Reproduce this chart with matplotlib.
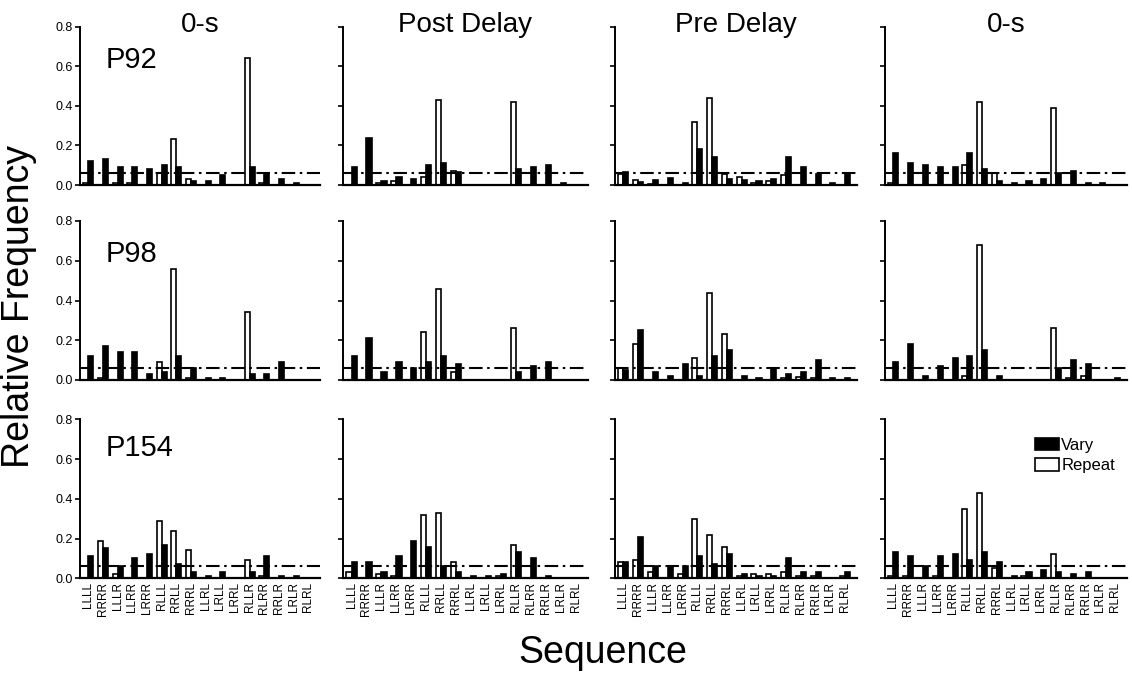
import matplotlib
matplotlib.use("Agg")
import matplotlib.pyplot as plt
from matplotlib.patches import Patch

plt.rcParams['font.family'] = ['Liberation Sans', 'DejaVu Sans']

sequences = ["LLLL", "RRRR", "LLLR", "LLRR", "LRRR", "RLLL", "RRLL", "RRRL",
             "LLRL", "LRLL", "LRRL", "RLLR", "RLRR", "RRLR", "LRLR", "RLRL"]
conditions = ["0-s", "Post Delay", "Pre Delay", "0-s"]
subjects = ["P92", "P98", "P154"]

# P92
p92_0s_vary = [0.12, 0.13, 0.09, 0.09, 0.08, 0.10, 0.09, 0.02, 0.02, 0.05, 0.00, 0.09, 0.06, 0.03, 0.01, 0.00]
p92_0s_repeat = [0.01, 0.00, 0.01, 0.01, 0.00, 0.06, 0.23, 0.03, 0.00, 0.00, 0.00, 0.64, 0.01, 0.00, 0.00, 0.00]
p92_post_vary = [0.09, 0.24, 0.02, 0.04, 0.03, 0.10, 0.11, 0.065, 0.00, 0.00, 0.00, 0.08, 0.09, 0.10, 0.01, 0.00]
p92_post_repeat = [0.00, 0.00, 0.01, 0.02, 0.00, 0.04, 0.43, 0.07, 0.00, 0.00, 0.00, 0.42, 0.00, 0.00, 0.00, 0.00]
p92_pre_vary = [0.065, 0.015, 0.025, 0.035, 0.01, 0.18, 0.14, 0.03, 0.025, 0.02, 0.03, 0.14, 0.09, 0.055, 0.01, 0.06]
p92_pre_repeat = [0.057, 0.025, 0.005, 0.00, 0.00, 0.32, 0.44, 0.057, 0.04, 0.01, 0.02, 0.05, 0.00, 0.00, 0.00, 0.00]
p92_0s2_vary = [0.16, 0.11, 0.10, 0.09, 0.09, 0.16, 0.08, 0.02, 0.01, 0.02, 0.03, 0.06, 0.07, 0.01, 0.01, 0.00]
p92_0s2_repeat = [0.01, 0.00, 0.00, 0.00, 0.00, 0.10, 0.42, 0.06, 0.00, 0.00, 0.00, 0.39, 0.00, 0.00, 0.00, 0.00]

# P98
p98_0s_vary = [0.12, 0.17, 0.14, 0.14, 0.03, 0.04, 0.12, 0.06, 0.01, 0.01, 0.00, 0.03, 0.03, 0.09, 0.00, 0.00]
p98_0s_repeat = [0.00, 0.01, 0.00, 0.00, 0.00, 0.09, 0.56, 0.01, 0.00, 0.00, 0.00, 0.34, 0.00, 0.00, 0.00, 0.00]
p98_post_vary = [0.12, 0.21, 0.04, 0.09, 0.06, 0.09, 0.12, 0.08, 0.00, 0.00, 0.00, 0.04, 0.07, 0.09, 0.00, 0.00]
p98_post_repeat = [0.00, 0.00, 0.00, 0.00, 0.00, 0.24, 0.46, 0.04, 0.00, 0.00, 0.00, 0.26, 0.00, 0.00, 0.00, 0.00]
p98_pre_vary = [0.05, 0.25, 0.04, 0.02, 0.08, 0.02, 0.12, 0.15, 0.02, 0.01, 0.055, 0.03, 0.04, 0.10, 0.01, 0.01]
p98_pre_repeat = [0.06, 0.18, 0.00, 0.00, 0.00, 0.11, 0.44, 0.23, 0.00, 0.00, 0.00, 0.01, 0.015, 0.01, 0.00, 0.00]
p98_0s2_vary = [0.09, 0.18, 0.02, 0.07, 0.11, 0.12, 0.15, 0.02, 0.00, 0.00, 0.00, 0.06, 0.10, 0.08, 0.00, 0.01]
p98_0s2_repeat = [0.00, 0.00, 0.00, 0.00, 0.00, 0.02, 0.68, 0.00, 0.00, 0.00, 0.00, 0.26, 0.01, 0.02, 0.00, 0.00]

# P154
p154_0s_vary = [0.11, 0.15, 0.06, 0.10, 0.12, 0.17, 0.07, 0.03, 0.01, 0.03, 0.00, 0.03, 0.11, 0.01, 0.01, 0.00]
p154_0s_repeat = [0.00, 0.19, 0.02, 0.00, 0.00, 0.29, 0.24, 0.14, 0.00, 0.00, 0.00, 0.09, 0.01, 0.00, 0.00, 0.00]
p154_post_vary = [0.08, 0.08, 0.03, 0.11, 0.19, 0.16, 0.06, 0.03, 0.01, 0.01, 0.02, 0.13, 0.10, 0.01, 0.00, 0.00]
p154_post_repeat = [0.03, 0.00, 0.02, 0.01, 0.00, 0.32, 0.33, 0.08, 0.00, 0.00, 0.01, 0.17, 0.00, 0.00, 0.00, 0.00]
p154_pre_vary = [0.08, 0.21, 0.06, 0.06, 0.06, 0.11, 0.07, 0.12, 0.02, 0.01, 0.01, 0.10, 0.03, 0.03, 0.00, 0.03]
p154_pre_repeat = [0.08, 0.09, 0.03, 0.00, 0.02, 0.30, 0.22, 0.16, 0.01, 0.02, 0.02, 0.03, 0.01, 0.01, 0.00, 0.01]
p154_0s2_vary = [0.13, 0.11, 0.06, 0.11, 0.12, 0.09, 0.13, 0.08, 0.01, 0.03, 0.04, 0.03, 0.02, 0.03, 0.00, 0.00]
p154_0s2_repeat = [0.01, 0.01, 0.00, 0.01, 0.00, 0.35, 0.43, 0.05, 0.00, 0.01, 0.00, 0.12, 0.00, 0.00, 0.00, 0.00]

chance_level = 1.0 / 16

panels = [
    [(p92_0s_vary, p92_0s_repeat), (p92_post_vary, p92_post_repeat),
     (p92_pre_vary, p92_pre_repeat), (p92_0s2_vary, p92_0s2_repeat)],
    [(p98_0s_vary, p98_0s_repeat), (p98_post_vary, p98_post_repeat),
     (p98_pre_vary, p98_pre_repeat), (p98_0s2_vary, p98_0s2_repeat)],
    [(p154_0s_vary, p154_0s_repeat), (p154_post_vary, p154_post_repeat),
     (p154_pre_vary, p154_pre_repeat), (p154_0s2_vary, p154_0s2_repeat)],
]

W, H = 1132, 673
fig = plt.figure(figsize=(W / 100, H / 100), dpi=100)

col_l = [80, 343, 615, 885]
col_r = [320, 588, 857, 1127]
row_t = [26.7, 221, 419.3]
row_b = [185, 380, 578.3]
subj_y = [0.74, 0.745, 0.77]

bw = 0.34
x = list(range(len(sequences)))

for r in range(3):
    for c in range(4):
        ax = fig.add_axes([col_l[c] / W, 1 - row_b[r] / H,
                           (col_r[c] - col_l[c]) / W, (row_b[r] - row_t[r]) / H])
        vary, repeat = panels[r][c]
        ax.bar([xi - bw for xi in x], repeat, width=bw, align='edge',
               facecolor='white', edgecolor='black', linewidth=1.2, zorder=2)
        ax.bar(x, vary, width=bw, align='edge',
               facecolor='black', edgecolor='black', linewidth=1.2, zorder=2)
        ax.axhline(chance_level, color='black', linewidth=1.5,
                   dashes=(6.5, 2.2, 1.2, 2.2), zorder=3)
        ax.set_xlim(-0.57, 15.8)
        ax.set_ylim(0, 0.8)
        for s in ['top', 'right']:
            ax.spines[s].set_visible(False)
        ax.spines['left'].set_linewidth(1.4)
        ax.spines['bottom'].set_linewidth(1.6)
        ax.set_yticks([0, 0.2, 0.4, 0.6, 0.8])
        ax.tick_params(axis='y', direction='out', length=3.5, width=1.2,
                       labelsize=9, pad=1.5)
        if c == 0:
            ax.set_yticklabels(["0.0", "0.2", "0.4", "0.6", "0.8"])
            ax.text(0.108, subj_y[r], subjects[r], transform=ax.transAxes,
                    fontsize=21, ha='left', va='baseline')
        else:
            ax.set_yticklabels([])
        ax.set_xticks(x)
        ax.tick_params(axis='x', length=0, pad=3)
        if r == 2:
            ax.set_xticklabels(sequences, rotation=90, fontsize=8.5,
                               va='top', ha='center')
        else:
            ax.set_xticklabels([])
        if r == 0:
            ax.text(0.5, 0.968, conditions[c], transform=ax.transAxes,
                    fontsize=20, ha='center', va='baseline')
        if r == 2 and c == 3:
            handles = [Patch(facecolor='black', edgecolor='black', linewidth=1.2, label='Vary'),
                       Patch(facecolor='white', edgecolor='black', linewidth=1.2, label='Repeat')]
            ax.legend(handles=handles, loc='upper left', bbox_to_anchor=(0.62, 0.885),
                      frameon=False, fontsize=12, handlelength=1.45, handleheight=0.8,
                      handletextpad=0.12, labelspacing=0.3, borderpad=0, borderaxespad=0)

fig.text(19 / W, 1 - 307 / H, "Relative Frequency", rotation=90,
         fontsize=27, ha='center', va='center')
fig.text(603 / W, 1 - 663 / H, "Sequence", fontsize=27, ha='center', va='baseline')

fig.savefig("out.png", dpi=100)
